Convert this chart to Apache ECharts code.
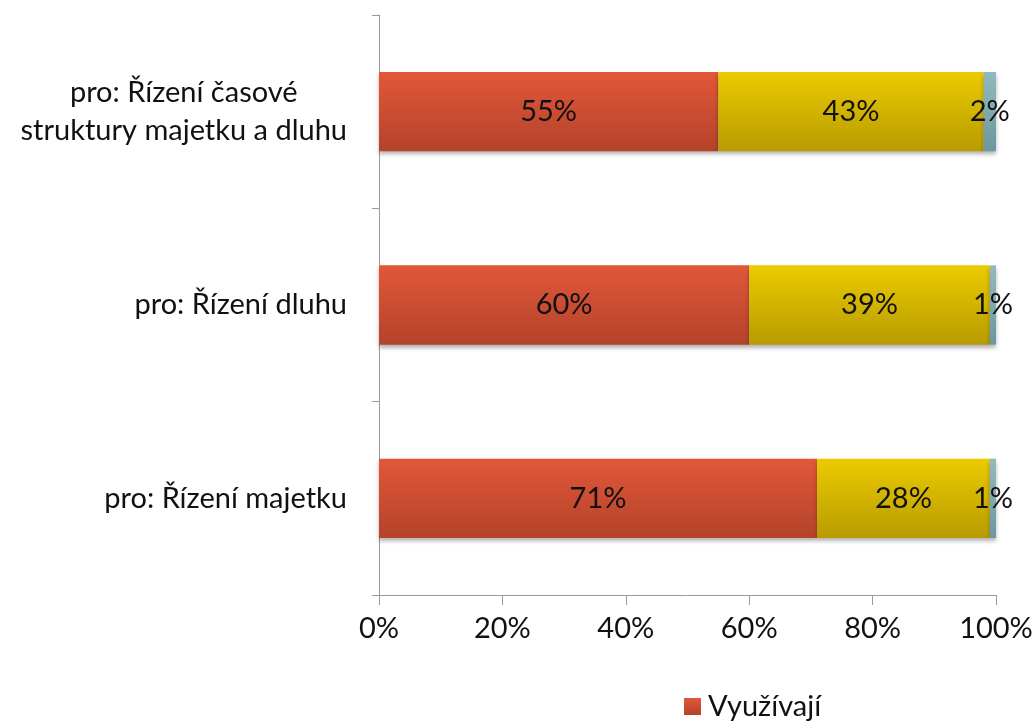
<!DOCTYPE html>
<html>
<head>
<meta charset="utf-8">
<script src="https://cdn.jsdelivr.net/npm/echarts@6/dist/echarts.min.js"></script>
<style>
  html, body { margin: 0; padding: 0; background: #fff; }
  #chart { width: 1036px; height: 724px; }
</style>
</head>
<body>
<div id="chart"></div>
<script>
// kategorie odspodu nahoru (osa y v ECharts začíná dole)
const categories = ['pro: Řízení majetku', 'pro: Řízení dluhu', 'pro: Řízení časové\nstruktury majetku a dluhu'];
const seriesNames = ['Využívají', 'Nevyužívají', 'Neví'];
const usingValues = [71, 60, 55];
const notUsingValues = [28, 39, 43];
const unknownValues = [1, 1, 2];
const xTicks = [0, 20, 40, 60, 80, 100];

const FONT = 'Lato';
const FS = 29;

function grad(top, bottom) {
  return new echarts.graphic.LinearGradient(0, 0, 0, 1, [
    { offset: 0, color: top },
    { offset: 1, color: bottom }
  ]);
}

const colors = [
  grad('#e2573a', '#b3432a'),
  grad('#ebcb00', '#b89b00'),
  grad('#92babe', '#6b989d')
];

const chart = echarts.init(document.getElementById('chart'));

function makeSeries(i, values) {
  return {
    name: seriesNames[i],
    type: 'bar',
    stack: 'total',
    barCategoryGap: '59%',
    data: values,
    itemStyle: {
      color: colors[i],
      shadowColor: 'rgba(0,0,0,0.3)',
      shadowBlur: 4,
      shadowOffsetY: 3
    },
    label: {
      show: true,
      position: 'inside',
      formatter: '{c}%',
      color: '#111',
      fontFamily: FONT,
      fontSize: FS
    }
  };
}

chart.setOption({
  animation: false,
  textStyle: { fontFamily: FONT },
  grid: { left: 379, right: 40, top: 15, bottom: 129, containLabel: false },
  legend: {
    data: [{ name: seriesNames[0], icon: 'rect' }],
    top: 692,
    left: 684,
    padding: 0,
    itemWidth: 17,
    itemHeight: 17,
    itemGap: 8,
    textStyle: { fontFamily: FONT, fontSize: FS, color: '#111', padding: [0, 0, 0, 2] }
  },
  xAxis: {
    type: 'value',
    min: xTicks[0],
    max: xTicks[xTicks.length - 1],
    interval: 20,
    axisLine: { show: true, lineStyle: { color: '#9a9a9a', width: 1 } },
    axisTick: { show: true, length: 10, lineStyle: { color: '#9a9a9a' } },
    splitLine: { show: false },
    axisLabel: {
      formatter: '{value}%',
      color: '#111',
      fontFamily: FONT,
      fontSize: FS,
      margin: 19
    }
  },
  yAxis: {
    type: 'category',
    data: categories,
    axisLine: { show: true, lineStyle: { color: '#9a9a9a', width: 1 } },
    axisTick: { show: true, length: 7, lineStyle: { color: '#9a9a9a' } },
    axisLabel: {
      margin: 32,
      align: 'right',
      formatter: v => v.split('\n').map(s => '{c|' + s + '}').join('\n'),
      rich: {
        c: { align: 'center', fontFamily: FONT, fontSize: FS, color: '#111', lineHeight: 38 }
      }
    }
  },
  series: [
    makeSeries(0, usingValues),
    makeSeries(1, notUsingValues),
    makeSeries(2, unknownValues)
  ]
});
</script>
</body>
</html>
